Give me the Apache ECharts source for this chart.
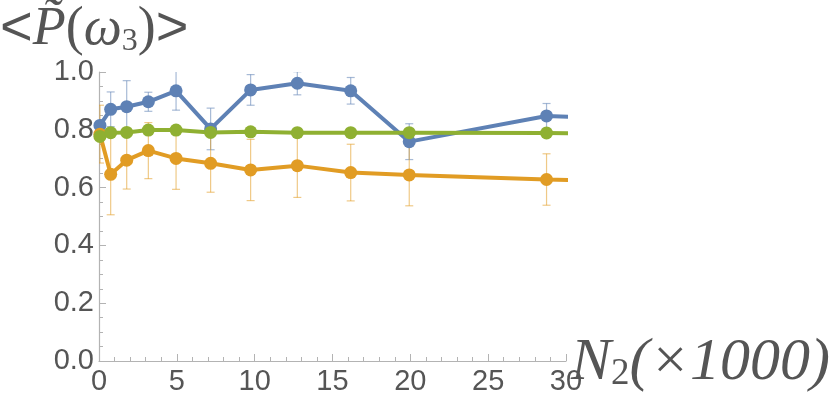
<!DOCTYPE html>
<html>
<head>
<meta charset="utf-8">
<script src="https://cdn.jsdelivr.net/npm/echarts@6/dist/echarts.min.js"></script>
<style>
  html, body { margin: 0; padding: 0; background: #fff; }
  #main { width: 830px; height: 401px; }
</style>
</head>
<body>
<div id="main"></div>
<script>
// N2 (x1000); last point lies past the axis end, the line runs off the frame
var xs = [0.06, 0.75, 1.78, 3.17, 4.95, 7.17, 9.74, 12.74, 16.17, 19.93, 28.75, 32];

var blueMean = [0.815, 0.871, 0.880, 0.897, 0.935, 0.803, 0.938, 0.961, 0.935, 0.759, 0.848, 0.842];
var blueErr  = [0.02, 0.06, 0.09, 0.033, 0.067, 0.072, 0.053, 0.04, 0.046, 0.062, 0.043, 0.04];

var orangeMean = [0.785, 0.646, 0.695, 0.728, 0.701, 0.684, 0.661, 0.676, 0.652, 0.644, 0.628, 0.625];
var orangeErr  = [0.10, 0.14, 0.10, 0.097, 0.107, 0.10, 0.106, 0.11, 0.098, 0.107, 0.089, 0.09];

var greenMean = [0.777, 0.790, 0.791, 0.799, 0.799, 0.791, 0.793, 0.790, 0.790, 0.790, 0.789, 0.787];
var greenErr  = [0.012, 0.01, 0.01, 0.01, 0.01, 0.01, 0.01, 0.01, 0.01, 0.01, 0.01, 0.01];

var chart = echarts.init(document.getElementById('main'));

function pts(mean) {
  return xs.map(function (x, i) { return [x, mean[i]]; });
}
function bars(mean, err) {
  return xs.map(function (x, i) { return [x, mean[i] - err[i], mean[i] + err[i]]; });
}

function errSeries(mean, err, color) {
  return {
    type: 'custom',
    clip: true,
    z: 1,
    data: bars(mean, err),
    renderItem: function (params, api) {
      var lo = api.coord([api.value(0), api.value(1)]);
      var hi = api.coord([api.value(0), api.value(2)]);
      var w = 4;
      var st = { stroke: color, lineWidth: 1.2, opacity: 0.55 };
      return {
        type: 'group',
        children: [
          { type: 'line', shape: { x1: lo[0], y1: lo[1], x2: hi[0], y2: hi[1] }, style: st },
          { type: 'line', shape: { x1: lo[0] - w, y1: lo[1], x2: lo[0] + w, y2: lo[1] }, style: st },
          { type: 'line', shape: { x1: hi[0] - w, y1: hi[1], x2: hi[0] + w, y2: hi[1] }, style: st }
        ]
      };
    }
  };
}

function lineSeries(mean, color) {
  return {
    type: 'line',
    data: pts(mean),
    clip: true,
    z: 2,
    symbol: 'circle',
    symbolSize: 13,
    lineStyle: { color: color, width: 4 },
    itemStyle: { color: color },
    animation: false
  };
}

var blue = '#5e81b5', orange = '#e19c24', green = '#8fb032';
var axisGray = '#b3b3b3', textGray = '#555555';

chart.setOption({
  animation: false,
  grid: { left: 99, top: 72, width: 467, height: 289 },
  xAxis: {
    type: 'value', min: 0, max: 30, interval: 5,
    axisLine: { lineStyle: { color: axisGray, width: 1.2 } },
    axisTick: { inside: true, length: 7, lineStyle: { color: axisGray } },
    minorTick: { show: true, splitNumber: 5, length: 4, lineStyle: { color: axisGray } },
    splitLine: { show: false },
    axisLabel: { color: textGray, fontSize: 29, fontFamily: 'Liberation Sans Narrow, Liberation Sans, sans-serif', margin: 6 }
  },
  yAxis: {
    type: 'value', min: 0, max: 1, interval: 0.2,
    axisLine: { show: true, lineStyle: { color: axisGray, width: 1.2 } },
    axisTick: { show: true, inside: true, length: 7, lineStyle: { color: axisGray } },
    minorTick: { show: true, splitNumber: 4, length: 4, lineStyle: { color: axisGray } },
    splitLine: { show: false },
    axisLabel: {
      color: textGray, fontSize: 29, fontFamily: 'Liberation Sans Narrow, Liberation Sans, sans-serif', margin: 5,
      formatter: function (v) { return v.toFixed(1); }
    }
  },
  graphic: [
    {
      type: 'text', left: 0, top: 2,
      style: {
        text: '{s|<}{p|P̃}{n|(}{p|ω}{sub|3}{n|)}{s|>}',
        fill: textGray,
        rich: {
          s: { fontFamily: 'Liberation Sans, sans-serif', fontSize: 56, fill: textGray },
          p: { fontFamily: 'Liberation Serif, serif', fontStyle: 'italic', fontSize: 54, fill: textGray },
          n: { fontFamily: 'Liberation Serif, serif', fontSize: 54, fill: textGray },
          sub: { fontFamily: 'Liberation Serif, serif', fontSize: 32, fill: textGray, verticalAlign: 'bottom', padding: [18, 0, 0, 0] }
        }
      }
    },
    {
      type: 'text', left: 571, top: 333,
      style: {
        text: '{p|N}{sub|2}{n|(}{p|×1000}{n|)}',
        fill: textGray,
        rich: {
          p: { fontFamily: 'Liberation Serif, serif', fontStyle: 'italic', fontSize: 60, fill: textGray },
          n: { fontFamily: 'Liberation Serif, serif', fontStyle: 'italic', fontSize: 60, fill: textGray },
          sub: { fontFamily: 'Liberation Serif, serif', fontSize: 37, fill: textGray, verticalAlign: 'bottom', padding: [22, 0, 0, 0] }
        }
      }
    }
  ],
  series: [
    errSeries(blueMean, blueErr, blue),
    errSeries(orangeMean, orangeErr, orange),
    errSeries(greenMean, greenErr, green),
    lineSeries(blueMean, blue),
    lineSeries(orangeMean, orange),
    lineSeries(greenMean, green)
  ]
});
</script>
</body>
</html>
